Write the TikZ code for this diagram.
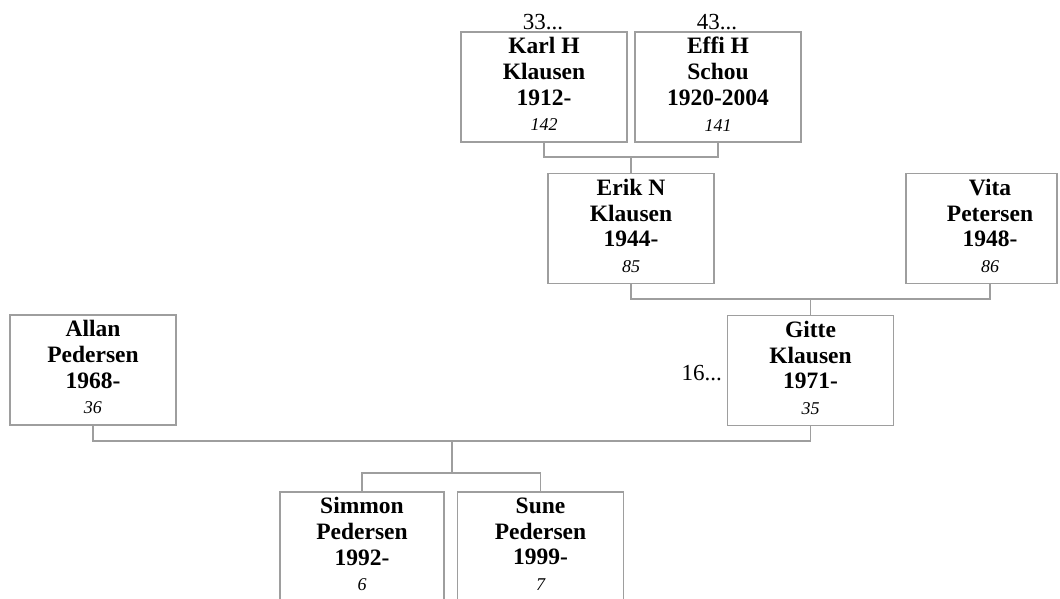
\documentclass[tikz,border=0pt]{standalone}
\usepackage{fontspec}
\setmainfont{Liberation Serif}
\definecolor{lc}{RGB}{158,158,158}
\newcommand\gennum[1]{{\fontsize{18}{25.7}\selectfont\mdseries\itshape #1}\rule[-5.5pt]{0pt}{0pt}}
\begin{document}
\begin{tikzpicture}[x=1pt,y=-1pt,
  box/.style={draw=lc, line width=1.2pt, minimum width=166pt, minimum height=110pt,
    inner sep=0pt, align=center, font=\fontsize{23.5}{25.7}\selectfont\bfseries},
  link/.style={draw=lc, line width=1.2pt},
  note/.style={font=\fontsize{23}{26}\selectfont, inner sep=0pt}]
\useasboundingbox (0,0) rectangle (1060,598);

\node[box] (karl) at (544,87) {Karl H\\Klausen\\1912-\\\gennum{142}};
\node[box] (effi) at (718,87) {Effi H\\Schou\\1920-2004\\\gennum{141}};
\node[box] (erik) at (631,228.5) {Erik N\\Klausen\\1944-\\\gennum{85}};
\node[box, minimum width=151pt] (vita) at (981.5,228.5) {};
\node[box, draw=none] (vitat) at (990,228.5) {Vita\\Petersen\\1948-\\\gennum{86}};
\node[box] (allan) at (93,370) {Allan\\Pedersen\\1968-\\\gennum{36}};
\node[box] (gitte) at (810.5,370.5) {Gitte\\Klausen\\1971-\\\gennum{35}};
\node[box, minimum width=164pt] (simmon) at (362,547) {Simmon\\Pedersen\\1992-\\\gennum{6}};
\node[box] (sune) at (540.5,547) {Sune\\Pedersen\\1999-\\\gennum{7}};

\node[note, anchor=base] (n33) at (543,29) {33...};
\node[note, anchor=base] (n43) at (717,29) {43...};
\node[note, anchor=base east] (n16) at (722,380) {16...};

\coordinate (j1) at (631,157);
\coordinate (j2) at (810.5,299);
\coordinate (vb) at (vitat.south |- vita.south);
\coordinate (j3) at (452,441);
\coordinate (j4) at (452,473);

\draw[link] (karl.south) |- (j1) -| (effi.south);
\draw[link] (j1) -- (erik.north);
\draw[link] (erik.south) |- (j2) -| (vb);
\draw[link] (j2) -- (gitte.north);
\draw[link] (allan.south) |- (j3) -| (gitte.south);
\draw[link] (j3) -- (j4);
\draw[link] (simmon.north) |- (j4) -| (sune.north);
\end{tikzpicture}
\end{document}
